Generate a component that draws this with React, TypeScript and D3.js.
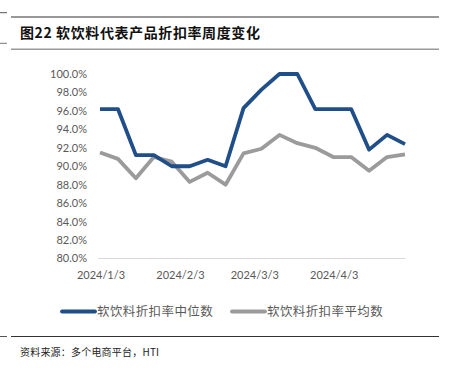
import React from "react";
import * as d3 from "d3";

const dates = [
  "2024-01-03", "2024-01-10", "2024-01-17", "2024-01-24", "2024-01-31", "2024-02-07",
  "2024-02-14", "2024-02-21", "2024-02-28", "2024-03-06", "2024-03-13", "2024-03-20",
  "2024-03-27", "2024-04-03", "2024-04-10", "2024-04-17", "2024-04-24", "2024-05-01",
];
const medianValues = [96.2, 96.2, 91.2, 91.2, 90.0, 90.0, 90.7, 90.0, 96.3, 98.3, 100.0, 100.0, 96.2, 96.2, 96.2, 91.8, 93.4, 92.4];
const meanValues = [91.5, 90.8, 88.7, 91.0, 90.5, 88.3, 89.3, 88.0, 91.4, 91.9, 93.4, 92.5, 92.0, 91.0, 91.0, 89.5, 91.0, 91.3];
const yTicks = [80, 82, 84, 86, 88, 90, 92, 94, 96, 98, 100];
const xTickLabels = ["2024-01-03", "2024-02-03", "2024-03-03", "2024-04-03"];
const seriesNames = ["软饮料折扣率中位数", "软饮料折扣率平均数"];
const title = "图22 软饮料代表产品折扣率周度变化";
const source = "资料来源：多个电商平台，HTI";

const W = 449;
const H = 368;
const BLUE = "#1f4e89";
const GRAY = "#9b9b9b";
const parse = d3.timeParse("%Y-%m-%d");
const fmt = d3.timeFormat("%Y/%-m/%-d");

export default function App() {
  const x = d3
    .scaleTime()
    .domain([parse(dates[0])!, parse(dates[dates.length - 1])!])
    .range([100, 405]);
  const y = d3.scaleLinear().domain([80, 100]).range([258.5, 74]);
  const line = d3
    .line<number>()
    .x((_, i) => x(parse(dates[i])!))
    .y((v) => y(v));
  const latin = "Lato, 'Open Sans', sans-serif";
  const cjk = "'Noto Sans CJK SC', sans-serif";

  return (
    <svg
      width={W}
      height={H}
      style={{ position: "absolute", left: 0, top: 0, background: "#fff" }}
    >
      {/* header rules */}
      <line x1={0} x2={7} y1={12.7} y2={12.7} stroke="#555" strokeWidth={1} />
      <line x1={11} x2={439} y1={17} y2={17} stroke="#333" strokeWidth={1} />
      <text x={20} y={38} fontFamily={cjk} fontWeight={700} fontSize={14} fill="#111" letterSpacing={0.6}>
        {title}
      </text>
      <line x1={0} x2={7} y1={43.3} y2={43.3} stroke="#777" strokeWidth={1} />
      <line x1={11} x2={439} y1={49.3} y2={49.3} stroke="#999" strokeWidth={1.5} />

      {/* y axis labels */}
      {yTicks.map((t) => (
        <text
          key={t}
          x={87}
          y={y(t)}
          dy="0.36em"
          textAnchor="end"
          fontFamily={latin}
          fontSize={11}
          fill="#595959"
        >
          {t.toFixed(1) + "%"}
        </text>
      ))}

      {/* x axis */}
      <line x1={98} x2={405.7} y1={y(80)} y2={y(80)} stroke="#d9d9d9" strokeWidth={1} />
      {xTickLabels.map((d) => (
        <text
          key={d}
          x={x(parse(d)!) + 1}
          y={279}
          textAnchor="middle"
          fontFamily={latin}
          fontSize={11}
          fill="#595959"
        >
          {fmt(parse(d)!)}
        </text>
      ))}

      {/* series */}
      <path d={line(meanValues)!} fill="none" stroke={GRAY} strokeWidth={3.8} strokeLinejoin="round" />
      <path d={line(medianValues)!} fill="none" stroke={BLUE} strokeWidth={3.8} strokeLinejoin="round" />

      {/* legend */}
      <line x1={62} x2={95} y1={311.5} y2={311.5} stroke={BLUE} strokeWidth={3.8} strokeLinecap="round" />
      <text x={97} y={311.5} dy="0.36em" fontFamily={cjk} fontSize={12.5} fill="#595959" letterSpacing={0.4}>
        {seriesNames[0]}
      </text>
      <line x1={232} x2={265} y1={311.5} y2={311.5} stroke={GRAY} strokeWidth={3.8} strokeLinecap="round" />
      <text x={267} y={311.5} dy="0.36em" fontFamily={cjk} fontSize={12.5} fill="#595959" letterSpacing={0.4}>
        {seriesNames[1]}
      </text>

      {/* footer */}
      <line x1={0} x2={7} y1={336.5} y2={336.5} stroke="#555" strokeWidth={1} />
      <line x1={11} x2={439} y1={336.5} y2={336.5} stroke="#333" strokeWidth={1} />
      <text x={20} y={352.5} dy="0.36em" fontFamily={cjk} fontSize={10} fill="#222" letterSpacing={0.2}>
        {source}
      </text>
    </svg>
  );
}
